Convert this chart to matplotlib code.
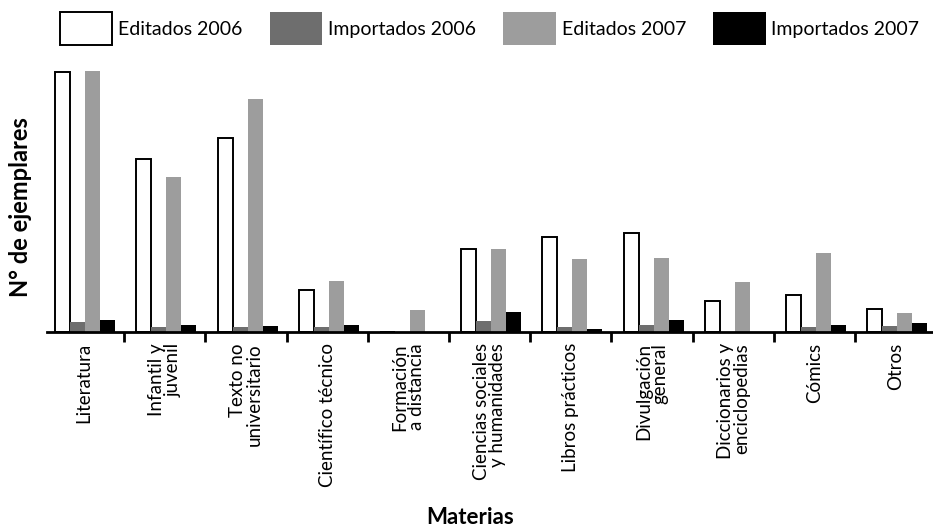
import numpy as np
import matplotlib.pyplot as plt
from matplotlib.ticker import FixedLocator

plt.rcParams['font.family'] = ['Lato', 'DejaVu Sans']

# datos (unidades arbitrarias, el original no tiene escala)
materias = ['Literatura', 'Infantil y\njuvenil', 'Texto no\nuniversitario',
            'Científico técnico', 'Formación\na distancia',
            'Ciencias sociales\ny humanidades', 'Libros prácticos',
            'Divulgación\ngeneral', 'Diccionarios y\nenciclopedias',
            'Cómics', 'Otros']
editados_2006 = [260, 173, 194, 42, 0, 83, 95, 99, 31, 37, 23]
importados_2006 = [10, 5, 5, 5, 0, 11, 5, 7, 0, 5, 6]
editados_2007 = [261, 155, 233, 51, 22, 83, 73, 74, 50, 79, 19]
importados_2007 = [12, 7, 6, 7, 0, 20, 3, 12, 0, 7, 9]

series = [
    ('Editados 2006', editados_2006, 'white', 'black'),
    ('Importados 2006', importados_2006, '#6e6e6e', 'none'),
    ('Editados 2007', editados_2007, '#9d9d9d', 'none'),
    ('Importados 2007', importados_2007, 'black', 'none'),
]

fig = plt.figure(figsize=(9.33, 5.30), dpi=100)
ax = fig.add_axes([0.0504, 0.3736, 0.9496, 0.51])

x = np.arange(len(materias))
w = 0.185
for i, (nombre, vals, color, borde) in enumerate(series):
    ax.bar(x + (i - 1.5) * w + 0.02, vals, w, color=color, edgecolor=borde,
           linewidth=1.4 if borde != 'none' else 0, label=nombre, zorder=2)

ax.set_xlim(-0.45, 10.46)
ax.set_ylim(0, 270)

for s in ['top', 'right', 'left']:
    ax.spines[s].set_visible(False)
ax.spines['bottom'].set_linewidth(2)
ax.spines['bottom'].set_zorder(3)
ax.set_yticks([])

ax.set_xticks(x)
ax.set_xticklabels(materias, rotation=90, fontsize=13.5, va='top', ha='center',
                   multialignment='right', linespacing=0.95)
ax.tick_params(axis='x', which='major', length=0, pad=8)
ax.xaxis.set_minor_locator(FixedLocator(x[:-1] + 0.5))
ax.tick_params(axis='x', which='minor', length=7, width=2, direction='out')

fig.text(0.022, 0.609, 'N° de ejemplares', rotation=90, fontsize=17,
         fontweight='bold', ha='center', va='center')
fig.text(0.504, 0.012, 'Materias', fontsize=16, fontweight='bold',
         ha='center', va='baseline')

leg = fig.legend(loc='upper left', bbox_to_anchor=(0.064, 0.978), ncol=4,
                 frameon=False, fontsize=14, handlelength=2.7, handleheight=2.3,
                 handletextpad=0.3, columnspacing=1.4, borderaxespad=0,
                 borderpad=0)

fig.savefig('out.png', dpi=100)
